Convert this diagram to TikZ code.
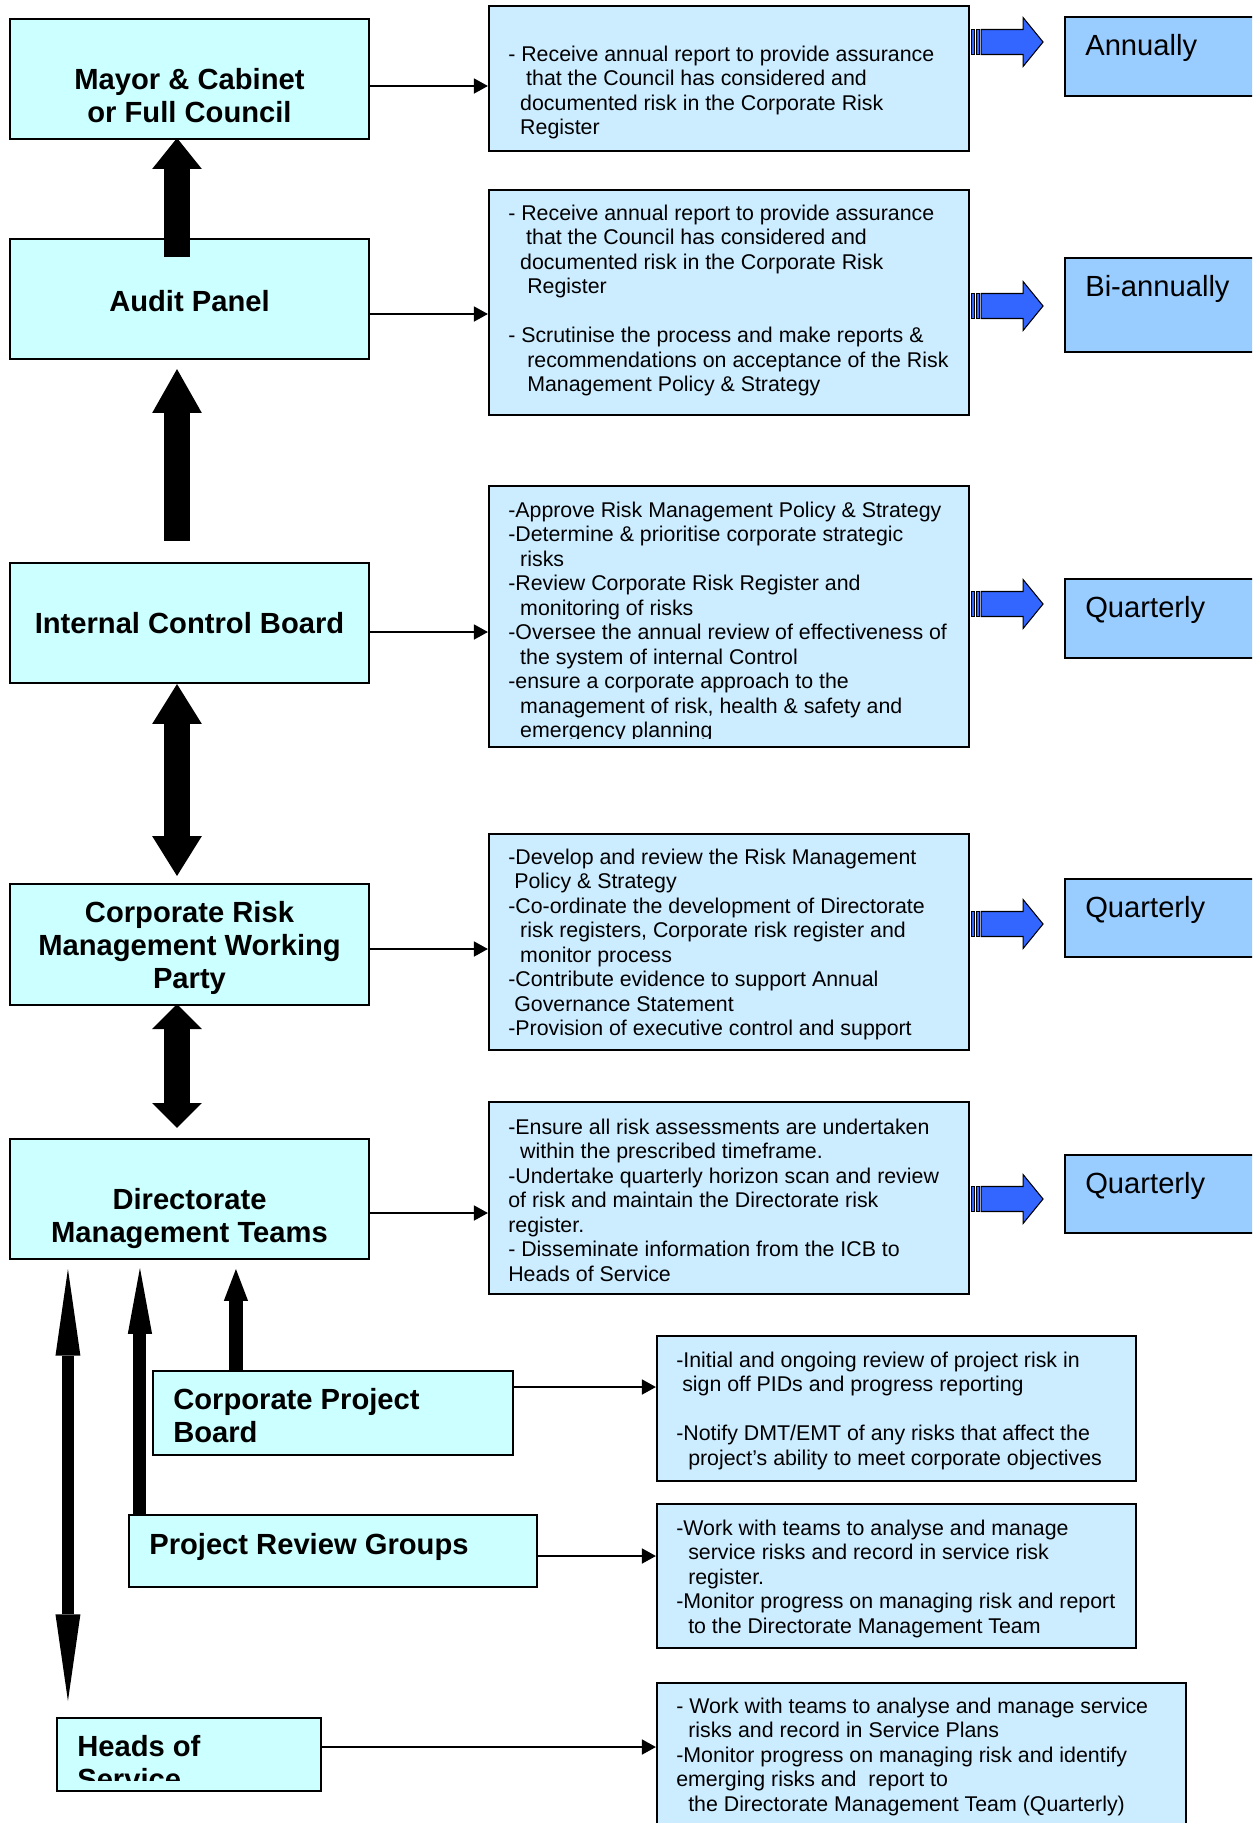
\documentclass[tikz,border=0pt]{standalone}
\usepackage{fontspec}
\setmainfont{Liberation Sans}
\usetikzlibrary{arrows.meta, calc, fit}
\definecolor{bodycyan}{HTML}{CCFFFF}
\definecolor{dutyblue}{HTML}{CCECFF}
\definecolor{freqblue}{HTML}{99CCFF}
\definecolor{arrowblue}{HTML}{3366FF}
\tikzset{
	body box/.style={draw, line width=1.2pt, fill=bodycyan, inner sep=0pt},
	duty box/.style={draw, line width=1.2pt, fill=dutyblue, inner sep=0pt},
	freq box/.style={draw, line width=1.2pt, fill=freqblue, inner sep=0pt},
	body text/.style={font=\fontsize{16.6pt}{18.7pt}\selectfont\bfseries, inner sep=0pt},
	duty text/.style={font=\fontsize{12.15pt}{13.95pt}\selectfont, align=left, anchor=north west, inner sep=0pt},
	freq text/.style={font=\fontsize{16.6pt}{19pt}\selectfont, anchor=north west, inner sep=0pt},
	link/.style={line width=1.1pt, arrows={-Triangle[length=8pt, width=8.5pt]}},
	bigarrow/.style={line width=14.7pt, arrows={-Triangle[length=#1, width=28.3pt, line width=0pt]}},
	bigdouble/.style={line width=14.7pt, arrows={Triangle[length=#1, width=28.3pt, line width=0pt]-Triangle[length=#1, width=28.3pt, line width=0pt]}},
	thinspike/.style 2 args={line width=#1, arrows={-Triangle[length=#2, width=13.8pt, line width=0pt]}},
	thindouble/.style 2 args={line width=#1, arrows={Triangle[length=#2, width=14.2pt, line width=0pt]-Triangle[length=#2, width=14.2pt, line width=0pt]}},
	arrowbar/.style={draw, line width=0.5pt, fill=arrowblue},
	arrowbody/.style={draw, line width=0.6pt, fill=arrowblue}
}
% striped blue arrow, drawn from a point on a box's east side
\newcommand{\bluearrow}[1]{%
	\filldraw[arrowbar] (#1) ++(1,-12.5) rectangle ++(3,25);
	\filldraw[arrowbar] (#1) ++(6,-12.5) rectangle ++(3,25);
	\filldraw[arrowbody] (#1) ++(11,-12.5) -- ++(42,0) -- ++(0,-12) -- ++(20,24.5)
		-- ++(-20,24.5) -- ++(0,-12) -- ++(-42,0) -- cycle;
}

\begin{document}
\begin{tikzpicture}[x=0.02cm, y=-0.02cm]
\useasboundingbox (0,0) rectangle (1252,1823);
\clip (0,0) rectangle (1252,1823);

% bodies
\node[body box, fit={(10,19) (369,139)}] (mayor) {};
\node[body box, fit={(10,239) (369,359)}] (audit) {};
\node[body box, fit={(10,563) (369,683)}] (icb) {};
\node[body box, fit={(10,884) (369,1005)}] (crmwp) {};
\node[body box, fit={(10,1139) (369,1259)}] (dmt) {};
\node[body box, fit={(153,1371) (513,1455)}] (cpb) {};
\node[body box, fit={(129,1515) (537,1587)}] (prg) {};
\node[body box, fit={(57,1718) (321,1791)}] (hos) {};

\node[body text, anchor=north, align=center] (mayor label) at ($(mayor.north)+(0,50)$) {Mayor \& Cabinet\\or Full Council};
\node[body text, anchor=north, align=center] (audit label) at ($(audit.north)+(0,52)$) {Audit Panel};
\node[body text, anchor=north, align=center] (icb label) at ($(icb.north)+(0,50)$) {Internal Control Board};
\node[body text, anchor=north, align=center] (crmwp label) at ($(crmwp.north)+(0,18)$) {Corporate Risk\\Management Working\\Party};
\node[body text, anchor=north, align=center] (dmt label) at ($(dmt.north)+(0,50)$) {Directorate\\Management Teams};
\node[body text, anchor=north west, align=left] (cpb label) at ($(cpb.north west)+(21,18)$) {Corporate Project\\Board};
\node[body text, anchor=north west, align=left] (prg label) at ($(prg.north west)+(21,19)$) {Project Review Groups};
\begin{scope}
\clip (hos.north west) rectangle ($(hos.south east)+(0,-12)$);
\node[body text, anchor=north west, align=left] (hos label) at ($(hos.north west)+(21,18)$) {Heads of\\Service};
\end{scope}

% duties
\node[duty box, fit={(489,6) (969,151)}] (r1) {};
\node[duty box, fit={(489,190) (969,415)}] (r2) {};
\node[duty box, fit={(489,486) (969,747)}] (r3) {};
\node[duty box, fit={(489,834) (969,1050)}] (r4) {};
\node[duty box, fit={(489,1102) (969,1294)}] (r5) {};
\node[duty box, fit={(657,1336) (1136,1481)}] (r6) {};
\node[duty box, fit={(657,1504) (1136,1648)}] (r7) {};
\node[duty box, fit={(657,1683) (1186,1840)}] (r8) {};

\node[duty text] (r1 text) at ($(r1.north west)+(20,40.5)$) {- Receive annual report to provide assurance\\
\hspace*{10.2pt}that the Council has considered and\\
\hspace*{6.8pt}documented risk in the Corporate Risk\\
\hspace*{6.8pt}Register};
\node[duty text] (r2 text) at ($(r2.north west)+(20,15.5)$) {- Receive annual report to provide assurance\\
\hspace*{10.2pt}that the Council has considered and\\
\hspace*{6.8pt}documented risk in the Corporate Risk\\
\hspace*{10.8pt}Register\\[13.95pt]
- Scrutinise the process and make reports \&\\
\hspace*{10.8pt}recommendations on acceptance of the Risk\\
\hspace*{10.8pt}Management Policy \& Strategy};
\begin{scope}
\clip (r3.north west) rectangle ($(r3.south east)+(0,-10)$);
\node[duty text] (r3 text) at ($(r3.north west)+(20,16.5)$) {-Approve Risk Management Policy \& Strategy\\
-Determine \& prioritise corporate strategic\\
\hspace*{6.8pt}risks\\
-Review Corporate Risk Register and\\
\hspace*{6.8pt}monitoring of risks\\
-Oversee the annual review of effectiveness of\\
\hspace*{6.8pt}the system of internal Control\\
-ensure a corporate approach to the\\
\hspace*{6.8pt}management of risk, health \& safety and\\
\hspace*{6.8pt}emergency planning};
\end{scope}
\node[duty text] (r4 text) at ($(r4.north west)+(20,15.5)$) {-Develop and review the Risk Management\\
\hspace*{3.4pt}Policy \& Strategy\\
-Co-ordinate the development of Directorate\\
\hspace*{6.8pt}risk registers, Corporate risk register and\\
\hspace*{6.8pt}monitor process\\
-Contribute evidence to support Annual\\
\hspace*{3.4pt}Governance Statement\\
-Provision of executive control and support};
\node[duty text] (r5 text) at ($(r5.north west)+(20,17.5)$) {-Ensure all risk assessments are undertaken\\
\hspace*{6.8pt}within the prescribed timeframe.\\
-Undertake quarterly horizon scan and review\\
of risk and maintain the Directorate risk\\
register.\\
- Disseminate information from the ICB to\\
Heads of Service};
\node[duty text] (r6 text) at ($(r6.north west)+(20,16.5)$) {-Initial and ongoing review of project risk in\\
\hspace*{3.4pt}sign off PIDs and progress reporting\\[13.95pt]
-Notify DMT/EMT of any risks that affect the\\
\hspace*{6.8pt}project’s ability to meet corporate objectives};
\node[duty text] (r7 text) at ($(r7.north west)+(20,16.5)$) {-Work with teams to analyse and manage\\
\hspace*{6.8pt}service risks and record in service risk\\
\hspace*{6.8pt}register.\\
-Monitor progress on managing risk and report\\
\hspace*{6.8pt}to the Directorate Management Team};
\node[duty text] (r8 text) at ($(r8.north west)+(20,15.5)$) {- Work with teams to analyse and manage service\\
\hspace*{6.8pt}risks and record in Service Plans\\
-Monitor progress on managing risk and identify\\
emerging risks and \ report to\\
\hspace*{6.8pt}the Directorate Management Team (Quarterly)};

% how often
\node[freq box, fit={(1065,17) (1270,96)}] (f1) {};
\node[freq box, fit={(1065,258) (1270,352)}] (f2) {};
\node[freq box, fit={(1065,579) (1270,658)}] (f3) {};
\node[freq box, fit={(1065,879) (1270,957)}] (f4) {};
\node[freq box, fit={(1065,1155) (1270,1233)}] (f5) {};
\node[freq text] (f1 label) at ($(f1.north west)+(21,18)$) {Annually};
\node[freq text] (f2 label) at ($(f2.north west)+(21,18)$) {Bi-annually};
\node[freq text] (f3 label) at ($(f3.north west)+(21,18)$) {Quarterly};
\node[freq text] (f4 label) at ($(f4.north west)+(21,18)$) {Quarterly};
\node[freq text] (f5 label) at ($(f5.north west)+(21,18)$) {Quarterly};

\bluearrow{$(r1.east)+(0,-36.5)$}
\bluearrow{$(r2.east)+(0,3.5)$}
\bluearrow{$(r3.east)+(0,-12.5)$}
\bluearrow{$(r4.east)+(0,-18)$}
\bluearrow{$(r5.east)+(0,1)$}

% links to duties
\draw[link] ($(mayor.east)+(0,7)$) coordinate (l1) -- (l1 -| r1.west);
\draw[link] ($(audit.east)+(0,15)$) coordinate (l2) -- (l2 -| r2.west);
\draw[link] ($(icb.east)+(0,9)$) coordinate (l3) -- (l3 -| r3.west);
\draw[link] ($(crmwp.east)+(0,4.5)$) coordinate (l4) -- (l4 -| r4.west);
\draw[link] ($(dmt.east)+(0,14)$) coordinate (l5) -- (l5 -| r5.west);
\draw[link] ($(cpb.east)+(0,-26)$) coordinate (l6) -- (l6 -| r6.west);
\draw[link] ($(prg.east)+(0,5)$) coordinate (l7) -- (l7 -| r7.west);
\draw[link] ($(hos.east)+(0,-7.5)$) coordinate (l8) -- (l8 -| r8.west);

% reporting line
\draw[bigarrow=17.6pt] ($(audit.north)+(-12.5,19)$) -- ($(mayor.south)+(-12.5,-2)$);
\draw[bigarrow=25pt] ($(icb.north)+(-12.5,-21)$) -- ($(audit.south)+(-12.5,9)$);
\draw[bigdouble=22.7pt] ($(icb.south)+(-12.5,0)$) -- ($(crmwp.north)+(-12.5,-7)$);
\draw[bigdouble=14.2pt] ($(crmwp.south)+(-12.5,-2)$) -- ($(dmt.north)+(-12.5,-10)$);
\draw[thindouble={6.8pt}{49.3pt}] ($(dmt.south west)+(59,9)$) -- ($(hos.north west)+(12,-16)$);
\draw[thinspike={7.4pt}{37.4pt}] ($(prg.north west)+(12,0)$) -- ($(dmt.south west)+(131,8)$);
\draw[thinspike={8pt}{18.1pt}] ($(cpb.north west)+(84,0)$) -- ($(dmt.south west)+(227,9)$);
\end{tikzpicture}
\end{document}
